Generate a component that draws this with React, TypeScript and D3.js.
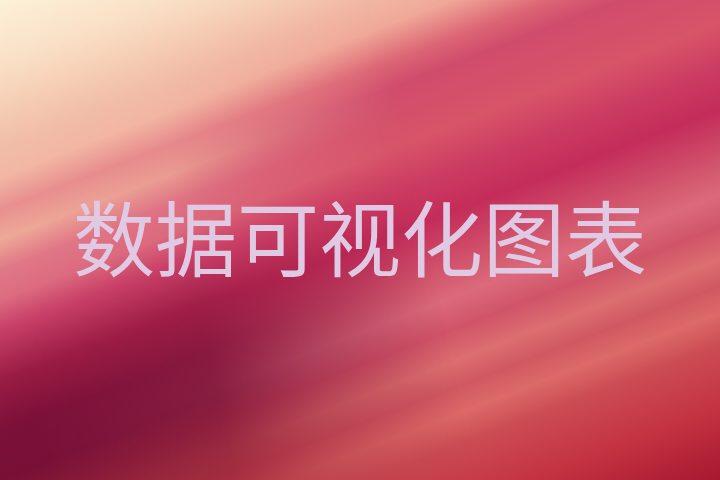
import { scaleLinear } from 'd3'

const WIDTH = 720
const HEIGHT = 480
const ANGLE = -21

const TITLE = '数据可视化图表'

// colour profile across the streaks on the right half (distance from the top-left corner)
const rightStopU = [
  0, 80, 130, 162, 198, 222, 280, 320, 360, 420, 440, 470, 500, 525, 550, 580, 635, 706,
]
const rightStopColors = [
  '#fdf1da', '#f8d8c0', '#f2b8a4', '#f0a898', '#dc6474', '#d04c6c', '#d85468', '#cc3c62',
  '#c42c5a', '#d45c70', '#dc6a7c', '#d05468', '#dc6e70', '#d05862', '#dc6a68', '#cc4c54',
  '#c43442', '#a81830',
]

// colour profile across the streaks along the left edge
const leftStopU = [0, 60, 112, 140, 165, 196, 224, 252, 280, 308, 355, 402, 448, 520, 600, 706]
const leftStopColors = [
  '#fdf0d8', '#f9e0c6', '#f4c8b0', '#f0bca8', '#f2b8a4', '#e89090', '#eeaa98', '#e07888',
  '#dc6c80', '#c84068', '#9a1c44', '#7c1038', '#781036', '#982438', '#b83844', '#a81830',
]

// where the left profile gives way to the right one
const blendStopV = [0, 180, 280, 420]
const blendStopWeight = [1, 0.85, 0.45, 0]

export default function App() {
  const rad = (ANGLE * Math.PI) / 180
  const nx = -Math.sin(rad)
  const ny = Math.cos(rad)
  const uMax = nx * WIDTH + ny * HEIGHT
  const offset = scaleLinear().domain([0, uMax]).range([0, 1])

  // blend runs mostly left to right, leaning a little towards the bottom
  const bx = 0.98
  const by = -0.2
  const oy = 240
  const vMax = blendStopV[blendStopV.length - 1]
  const blendOffset = scaleLinear().domain([0, vMax]).range([0, 1])

  return (
    <div style={{ position: 'fixed', left: 0, top: 0 }}>
      <svg width={WIDTH} height={HEIGHT} viewBox={`0 0 ${WIDTH} ${HEIGHT}`}>
        <defs>
          <linearGradient
            id="right"
            gradientUnits="userSpaceOnUse"
            x1={0}
            y1={0}
            x2={nx * uMax}
            y2={ny * uMax}
          >
            {rightStopU.map((u, i) => (
              <stop key={i} offset={offset(u)} stopColor={rightStopColors[i]} />
            ))}
          </linearGradient>
          <linearGradient
            id="left"
            gradientUnits="userSpaceOnUse"
            x1={0}
            y1={0}
            x2={nx * uMax}
            y2={ny * uMax}
          >
            {leftStopU.map((u, i) => (
              <stop key={i} offset={offset(u)} stopColor={leftStopColors[i]} />
            ))}
          </linearGradient>
          <linearGradient
            id="blend"
            gradientUnits="userSpaceOnUse"
            x1={0}
            y1={oy}
            x2={bx * vMax}
            y2={oy + by * vMax}
          >
            {blendStopV.map((v, i) => {
              const g = Math.round(blendStopWeight[i] * 255)
              return <stop key={i} offset={blendOffset(v)} stopColor={`rgb(${g},${g},${g})`} />
            })}
          </linearGradient>
          <mask id="leftMask" maskUnits="userSpaceOnUse" x={0} y={0} width={WIDTH} height={HEIGHT}>
            <rect width={WIDTH} height={HEIGHT} fill="url(#blend)" />
          </mask>
        </defs>

        <rect width={WIDTH} height={HEIGHT} fill="url(#right)" />
        <rect width={WIDTH} height={HEIGHT} fill="url(#left)" mask="url(#leftMask)" />

        <text
          x={WIDTH / 2}
          y={270}
          textAnchor="middle"
          fill="#dfc9e3"
          fontFamily="'Noto Sans CJK SC', sans-serif"
          fontSize={82}
        >
          {TITLE}
        </text>
      </svg>
    </div>
  )
}
